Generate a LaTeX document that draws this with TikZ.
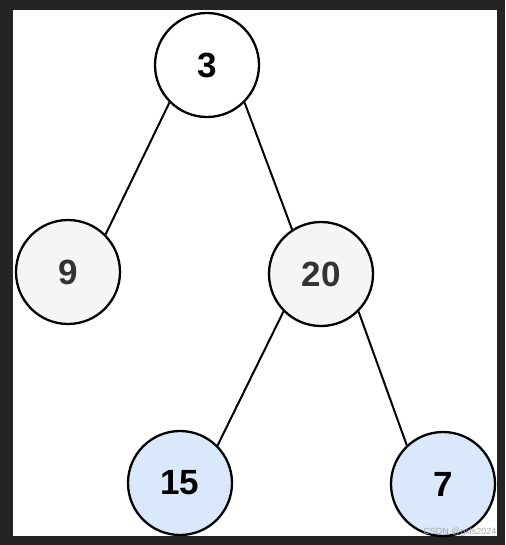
\documentclass[tikz,border=0pt]{standalone}
\usepackage{fontspec}
\setmainfont{Liberation Sans}
\usepackage{tikz}
\usetikzlibrary{positioning}
\definecolor{framegray}{HTML}{242424}
\definecolor{leafgray}{HTML}{F5F5F5}
\definecolor{leafblue}{HTML}{DAE8FC}
\definecolor{textgray}{HTML}{333333}

\begin{document}
\begin{tikzpicture}[x=1pt, y=-1pt,
  treenode/.style={circle, draw=black, line width=2.3pt, minimum size=104pt,
                   inner sep=0pt, font=\fontsize{35}{35}\selectfont\bfseries},
  graynode/.style={treenode, fill=leafgray, text=textgray},
  bluenode/.style={treenode, fill=leafblue, text=black},
  edge/.style={draw=black, line width=2pt}
]
% frame
\fill[framegray] (0,0) rectangle (505,545);
\fill[white] (13,10) rectangle (497,536);
\useasboundingbox (0,0) rectangle (505,545);

% nodes
\node[treenode, fill=white] (n3) at (207,65) {3};
\node[graynode] (n9) at (68,272) {9};
\node[graynode] (n20) at (321,274) {20};
\node[bluenode] (n15) at (180,483) {15};
\node[bluenode] (n7) at (443,484) {7};

% edges
\draw[edge] (n3.225) -- (n9.45);
\draw[edge] (n3.-45) -- (n20.123);
\draw[edge] (n20.225) -- (n15.45);
\draw[edge] (n20.-45) -- (n7.133);

% watermark
\node[text=black!35, font=\fontsize{9}{9}\selectfont, anchor=east] (mark) at (500,532) {CSDN @gxls2024};
\end{tikzpicture}
\end{document}
